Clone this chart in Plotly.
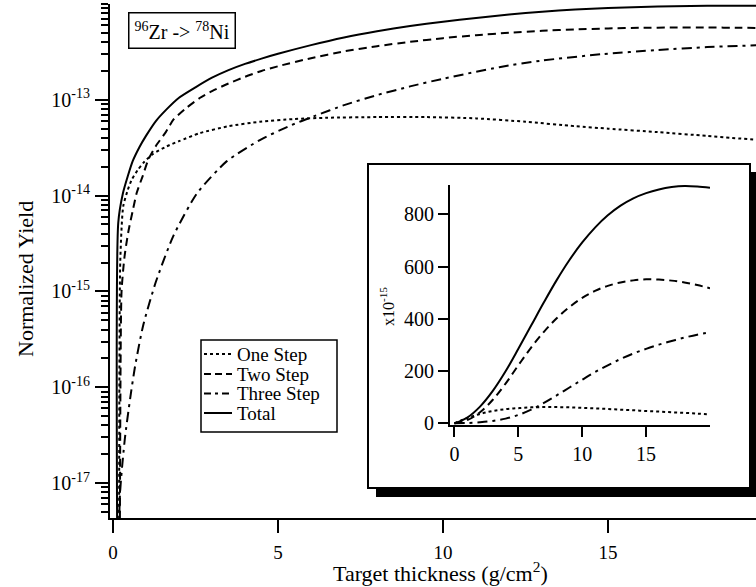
import plotly.graph_objects as go

# ---------------- main panel data (log scale) ----------------
one_x = [0.15, 0.18, 0.22, 0.31, 0.45, 0.57, 0.75, 0.92, 1.2, 1.63, 2.0, 2.64, 3.5, 4.45, 5.5, 6.5, 8.0, 9.5, 11.0, 12.5, 14.0, 15.0, 16.5, 18.0, 20.0]
one_y = [1e-19, 1e-18, 2e-15, 7.7e-15, 1.15e-14, 1.47e-14, 1.85e-14, 2.2e-14, 2.7e-14, 3.27e-14, 3.7e-14, 4.5e-14, 5.3e-14, 5.9e-14, 6.3e-14, 6.5e-14, 6.6e-14, 6.6e-14, 6.4e-14, 5.9e-14, 5.3e-14, 5.0e-14, 4.6e-14, 4.2e-14, 3.7e-14]

two_x = [0.15, 0.2, 0.26, 0.35, 0.46, 0.6, 0.72, 0.9, 1.07, 1.3, 1.6, 1.83, 2.2, 2.64, 3.0, 3.5, 4.0, 4.5, 5, 6, 7, 8, 9, 10, 11, 12, 13, 14, 15, 16, 17, 18, 19, 20]
two_y = [1e-19, 1e-18, 1e-15, 2.3e-15, 4.1e-15, 7e-15, 1.07e-14, 1.6e-14, 2.37e-14, 3.3e-14, 4.6e-14, 6.2e-14, 8.1e-14, 1.05e-13, 1.23e-13, 1.48e-13, 1.74e-13, 2.0e-13, 2.24e-13, 2.72e-13, 3.2e-13, 3.63e-13, 4.03e-13, 4.4e-13, 4.73e-13, 5.01e-13, 5.25e-13, 5.43e-13, 5.56e-13, 5.64e-13, 5.68e-13, 5.68e-13, 5.65e-13, 5.6e-13]

three_x = [0.15, 0.21, 0.36, 0.52, 0.67, 0.92, 1.3, 1.83, 2.54, 3.45, 4.45, 5.3, 6.1, 7.0, 8.0, 9.0, 10.0, 11.7, 13.0, 14.8, 16.5, 18.0, 20.0]
three_y = [1e-19, 7.4e-18, 2.9e-17, 7.6e-17, 1.66e-16, 4.5e-16, 1.26e-15, 3.8e-15, 1.05e-14, 2.29e-14, 3.8e-14, 5.25e-14, 6.76e-14, 8.8e-14, 1.12e-13, 1.38e-13, 1.66e-13, 2.19e-13, 2.57e-13, 2.99e-13, 3.31e-13, 3.55e-13, 3.76e-13]

tot_x = [0.15, 0.16, 0.3, 0.45, 0.6, 0.8, 1.0, 1.3, 1.6, 2.0, 2.5, 3.0, 3.5, 4.0, 4.5, 5, 6, 7, 8, 9, 10, 11, 12, 13, 14, 15, 16, 17, 18, 19, 20]
tot_y = [1e-19, 5.2e-15, 1.05e-14, 1.6e-14, 2.3e-14, 3.2e-14, 4.2e-14, 6.0e-14, 7.8e-14, 1.05e-13, 1.35e-13, 1.7e-13, 2.04e-13, 2.37e-13, 2.69e-13, 3.02e-13, 3.72e-13, 4.47e-13, 5.19e-13, 5.89e-13, 6.53e-13, 7.16e-13, 7.76e-13, 8.32e-13, 8.75e-13, 9.08e-13, 9.33e-13, 9.5e-13, 9.6e-13, 9.6e-13, 9.55e-13]

# ---------------- inset data (linear, x10^-15) ----------------
in_x = [0, 1, 2, 3, 4, 5, 6, 7, 8, 9, 10, 11, 12, 13, 14, 15, 16, 17, 18, 19, 20]
in_one = [0, 20, 36, 47, 54, 58, 61, 62, 62, 61, 59, 57, 55, 52, 50, 47, 45, 42, 40, 37, 34]
in_two = [0, 12, 42, 90, 152, 222, 290, 350, 402, 445, 480, 507, 526, 539, 547, 551, 550, 546, 539, 529, 517]
in_three = [0, 1, 4, 9, 18, 32, 52, 78, 107, 137, 167, 196, 222, 246, 267, 285, 301, 315, 328, 339, 348]
in_tot = [0, 22, 64, 124, 199, 285, 374, 463, 548, 625, 692, 749, 796, 833, 861, 881, 895, 904, 908, 906, 901]

series_names = ["One Step", "Two Step", "Three Step", "Total"]
main_tick_vals = [1e-17, 1e-16, 1e-15, 1e-14, 1e-13]
main_tick_text = ["10<sup>-17</sup>", "10<sup>-16</sup>", "10<sup>-15</sup>", "10<sup>-14</sup>", "10<sup>-13</sup>"]
x_tick_vals = [0, 5, 10, 15]
in_y_ticks = [0, 200, 400, 600, 800]

FONT = "Liberation Serif"
dashes = ["3px,3px", "8px,5px", "10px,5px,3px,5px", "solid"]
legend_dashes = ["3px,3px", "7px,4px", "7px,4px,3px,4px", "solid"]

# layout geometry (pixels)
W, H = 756, 587
L, R, T, B = 110, 0, 4, 69
PW = W - L - R
PH = H - T - B


def px(xp):
    return (xp - L) / PW


def py(yp):
    return (H - B - yp) / PH


fig = go.Figure()
main_sets = [(one_x, one_y), (two_x, two_y), (three_x, three_y), (tot_x, tot_y)]
for (xs, ys), name, d in zip(main_sets, series_names, dashes):
    fig.add_trace(go.Scatter(x=xs, y=ys, mode="lines", name=name, showlegend=False,
                             line=dict(color="black", width=2, dash=d,
                                       shape="spline", smoothing=0.6),
                             xaxis="x", yaxis="y"))

inset_sets = [in_one, in_two, in_three, in_tot]
for ys, name, d in zip(inset_sets, series_names, dashes):
    fig.add_trace(go.Scatter(x=in_x, y=ys, mode="lines", name=name, showlegend=False,
                             line=dict(color="black", width=2, dash=d, shape="spline"),
                             xaxis="x2", yaxis="y2"))

axis_common = dict(showline=True, linecolor="black", linewidth=2, ticks="outside",
                   tickcolor="black", tickwidth=2, showgrid=False, zeroline=False)
main_font = dict(family=FONT, size=20, color="black")
xtick_font = dict(family=FONT, size=19, color="black")
inset_font = dict(family=FONT, size=20, color="black")

fig.update_layout(
    width=W, height=H,
    margin=dict(l=L, r=R, t=T, b=B, pad=0),
    paper_bgcolor="white", plot_bgcolor="white",
    font=dict(family=FONT, color="black"),
    showlegend=False,
    xaxis=dict(domain=[0, 1], range=[-0.09, 19.48], tickvals=x_tick_vals, ticklen=13,
               anchor="y", ticklabelstandoff=3, tickfont=xtick_font, **axis_common),
    yaxis=dict(domain=[0, 1], type="log", range=[-17.365, -12.0], tickvals=main_tick_vals,
               ticktext=main_tick_text, ticklen=13, anchor="x", ticklabelstandoff=1,
               tickfont=main_font,
               minor=dict(ticks="outside", ticklen=7, tickwidth=1.5, tickcolor="black",
                          dtick="D1", showgrid=False),
               **axis_common),
    xaxis2=dict(domain=[px(450), px(710)], range=[-0.35, 20], tickvals=x_tick_vals,
                ticklen=10, anchor="y2", tickfont=inset_font, **axis_common),
    yaxis2=dict(domain=[py(425), py(185)], range=[-6.5, 912], tickvals=in_y_ticks,
                ticklen=10, anchor="x2", tickfont=inset_font, **axis_common),
)

# inset frame with drop shadow
fig.add_shape(type="rect", xref="paper", yref="paper",
              x0=px(376), x1=px(765), y0=py(497), y1=py(172),
              fillcolor="black", line=dict(width=0), layer="below")
fig.add_shape(type="rect", xref="paper", yref="paper",
              x0=px(368), x1=px(750), y0=py(488), y1=py(164),
              fillcolor="white", line=dict(color="black", width=2), layer="below")

# legend (drawn manually to match the compact original)
fig.add_shape(type="rect", xref="paper", yref="paper",
              x0=px(201), x1=px(337), y0=py(432), y1=py(340),
              fillcolor="white", line=dict(color="black", width=1.5), layer="below")
legend_rows = [354, 374, 393.5, 413]
for name, d, ry in zip(series_names, legend_dashes, legend_rows):
    fig.add_shape(type="line", xref="paper", yref="paper",
                  x0=px(204), x1=px(232), y0=py(ry), y1=py(ry),
                  line=dict(color="black", width=2, dash=d))
    fig.add_annotation(x=px(235), y=py(ry), xref="paper", yref="paper", showarrow=False,
                       xanchor="left", yanchor="middle", text=name,
                       font=dict(family=FONT, size=19, color="black"))

fig.add_annotation(x=px(182), y=py(30), xref="paper", yref="paper", showarrow=False,
                   xanchor="center", yanchor="middle",
                   text="<sup>96</sup>Zr -> <sup>78</sup>Ni",
                   font=dict(family=FONT, size=20, color="black"),
                   bordercolor="black", borderwidth=1.5, borderpad=5, bgcolor="white")
fig.add_annotation(x=px(25), y=py(279), xref="paper", yref="paper", showarrow=False,
                   xanchor="center", yanchor="middle",
                   text="Normalized Yield", textangle=-90,
                   font=dict(family=FONT, size=22, color="black"))
fig.add_annotation(x=px(440), y=py(572), xref="paper", yref="paper", showarrow=False,
                   xanchor="center", yanchor="middle",
                   text="Target thickness (g/cm<sup>2</sup>)",
                   font=dict(family=FONT, size=22, color="black"))
fig.add_annotation(x=px(387), y=py(307), xref="paper", yref="paper", showarrow=False,
                   xanchor="center", yanchor="middle",
                   text="x10<sup>-15</sup>", textangle=-90,
                   font=dict(family=FONT, size=16, color="black"))

fig.write_html("out.html")
